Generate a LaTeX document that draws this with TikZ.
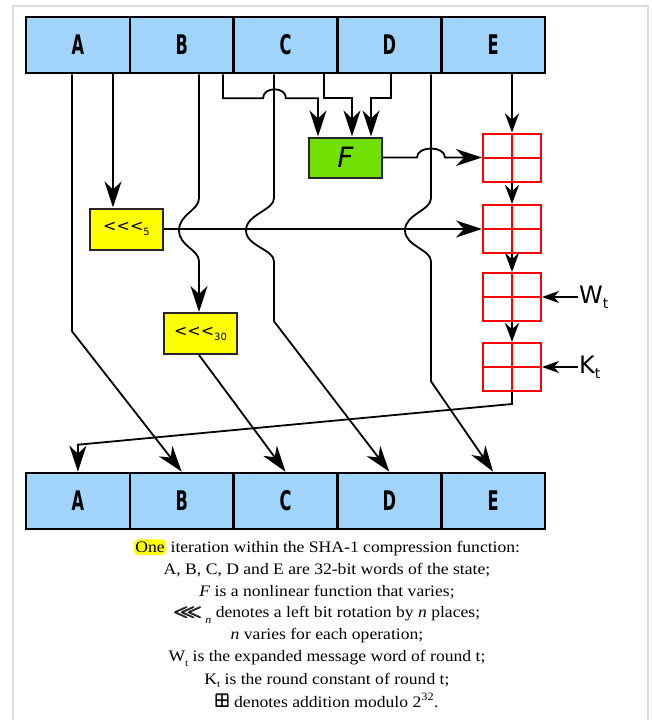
\documentclass[tikz,border=0pt]{standalone}
\usepackage{amsmath}
\usepackage{amssymb}
\usepackage{graphicx}
\usepackage{fontspec}
\setmainfont{Liberation Serif}[FakeStretch=1.1]
\newfontfamily\dv{DejaVu Sans}
\usetikzlibrary{arrows.meta,calc}
\definecolor{regblue}{HTML}{A0D4FA}
\definecolor{fgreen}{HTML}{6FE000}
\definecolor{rotyellow}{HTML}{FFFF00}
\definecolor{framegray}{HTML}{DCDCDC}
\newcommand{\reglbl}[1]{\scalebox{0.6}[1]{#1}}
\newcommand{\lowsub}[2]{\raisebox{#1}[0pt][0pt]{#2}}
\begin{document}
\begin{tikzpicture}[x=1pt,y=-1pt,
  reg/.style={draw=black,line width=2.6pt,fill=regblue,minimum width=103.8pt,minimum height=56pt,inner sep=0pt,font=\dv\bfseries\fontsize{27}{27}\selectfont},
  fnbox/.style={draw=black!85,line width=2pt,fill=fgreen,minimum width=73pt,minimum height=40pt,inner sep=0pt,font=\dv\itshape\fontsize{28}{28}\selectfont},
  rotbox/.style={draw=black!85,line width=2pt,fill=rotyellow,minimum width=73pt,minimum height=41pt,inner sep=0pt,font=\dv\fontsize{16}{16}\selectfont},
  adder/.style={draw=red,line width=2pt,minimum width=58pt,minimum height=48pt,inner sep=0pt,
    path picture={\draw[red,line width=2pt] (path picture bounding box.north) -- (path picture bounding box.south) (path picture bounding box.west) -- (path picture bounding box.east);}},
  conn/.style={draw=black,line width=1.8pt},
  arrL/.style={-{Stealth[length=26pt,width=17pt,inset=8pt]}},
  arrM/.style={-{Stealth[length=19pt,width=14pt,inset=6pt]}},
  arrS/.style={-{Stealth[length=17pt,width=12pt,inset=5pt]}},
  inlbl/.style={anchor=west,inner sep=1pt,font=\dv\fontsize{24}{24}\selectfont},
  captxt/.style={anchor=base,inner sep=0pt,font=\fontsize{16}{16}\selectfont},
]
\useasboundingbox (0,0) rectangle (651,720);
\draw[framegray,line width=1.5pt] (13,720) -- (13,6) -- (648,6) -- (648,720);

% registers
\node[reg] (tA) at (77.9,45) {\reglbl{A}};
\node[reg] (tB) at (181.7,45) {\reglbl{B}};
\node[reg] (tC) at (285.5,45) {\reglbl{C}};
\node[reg] (tD) at (389.3,45) {\reglbl{D}};
\node[reg] (tE) at (493.1,45) {\reglbl{E}};
\node[reg] (bA) at (77.9,501) {\reglbl{A}};
\node[reg] (bB) at (181.7,501) {\reglbl{B}};
\node[reg] (bC) at (285.5,501) {\reglbl{C}};
\node[reg] (bD) at (389.3,501) {\reglbl{D}};
\node[reg] (bE) at (493.1,501) {\reglbl{E}};

% function and rotations
\node[fnbox] (Fbox) at (345.5,157.5) {F};
\node[rotbox] (r5) at (126.5,229) {{<}{<}{<}\raisebox{-4pt}{\fontsize{10}{10}\selectfont 5}};
\node[rotbox] (r30) at (200.5,333.5) {{<}{<}{<}\raisebox{-4pt}{\fontsize{10}{10}\selectfont 30}};

% adders
\node[adder] (ad1) at (512,157.5) {};
\node[adder] (ad2) at (512,229) {};
\node[adder] (ad3) at (512,297) {};
\node[adder] (ad4) at (512,367) {};
\node[inlbl] (Wt) at (578,297) {W\raisebox{-5pt}{\fontsize{14}{14}\selectfont t}};
\node[inlbl] (Kt) at (578,367) {K\raisebox{-5pt}{\fontsize{14}{14}\selectfont t}};

% start points
\coordinate (sA1) at ([xshift=-5.9pt]tA.south);
\coordinate (sA2) at ([xshift=35.1pt]tA.south);
\coordinate (sB1) at ([xshift=17.3pt]tB.south);
\coordinate (sB2) at ([xshift=41.3pt]tB.south);
\coordinate (sC1) at ([xshift=-11.5pt]tC.south);
\coordinate (sC2) at ([xshift=38.5pt]tC.south);
\coordinate (sD1) at ([xshift=1.7pt]tD.south);
\coordinate (sD2) at ([xshift=41.7pt]tD.south);
\coordinate (sE) at ([xshift=18.9pt]tE.south);

% inputs of F
\draw[conn,arrL] (sB2) -- ++(0,24) -- ++(40,0) .. controls +(0,-12) and +(0,-12) .. ++(23,0) -- ++(32,0) coordinate (fb1) -- (fb1 |- Fbox.north);
\draw[conn,arrL] (sC2) -- ++(0,24) -- ++(28,0) coordinate (fc1) -- (fc1 |- Fbox.north);
\draw[conn,arrL] (sD1) -- ++(0,24) -- ++(-20,0) coordinate (fd1) -- (fd1 |- Fbox.north);

% long lines
\draw[conn,arrL] (sA1) -- ++(0,257) -- (bB.north);
\draw[conn,arrL] (sA2) -- (sA2 |- r5.north);
\draw[conn,arrL] (sB1) -- ++(0,124) .. controls +(0,12) and +(0,-16) .. ++(-20,32) .. controls +(0,16) and +(0,-12) .. ++(20,31) -- (sB1 |- r30.north);
\draw[conn,arrL] (sC1) -- ++(0,124) .. controls +(0,12) and +(0,-16) .. ++(-28,32) .. controls +(0,16) and +(0,-12) .. ++(28,31) -- ++(0,60) -- (bD.north);
\draw[conn,arrL] (sD2) -- ++(0,124) .. controls +(0,12) and +(0,-16) .. ++(-26,32) .. controls +(0,16) and +(0,-12) .. ++(26,31) -- ++(0,120) -- (bE.north);
\draw[conn,arrL] (sB1 |- r30.south) -- (bC.north);
\draw[conn,arrL] (ad4.south) -- ++(0,12) -- ([yshift=27pt]bA.north) -- (bA.north);

% into adders
\draw[conn,arrL] (Fbox.east) -- ++(34,0) .. controls +(0,-12) and +(0,-12) .. ++(28,0) -- (ad1.west);
\draw[conn,arrL] (r5.east) -- (ad2.west);
\draw[conn,arrM] (sE) -- (ad1.north);
\draw[conn,arrM] (ad1.south) -- (ad2.north);
\draw[conn,arrM] (ad2.south) -- (ad3.north);
\draw[conn,arrM] (ad3.south) -- (ad4.north);
\draw[conn,arrS] (Wt.west) -- (ad3.east);
\draw[conn,arrS] (Kt.west) -- (ad4.east);

% caption
\node[captxt] (c1) at (327,552.5) {\tikz[baseline=(onehl.base)]\node[fill=rotyellow,rounded corners=4pt,inner xsep=1.5pt,inner ysep=2.5pt] (onehl) {One};\ iteration within the SHA-1 compression function:};
\node[captxt] (c2) at (327,574) {A, B, C, D and E are 32-bit words of the state;};
\node[captxt] (c3) at (327,596.5) {\textit{F} is a nonlinear function that varies;};
\node[captxt] (c4) at (327,617.5) {\scalebox{1.35}[1.1]{$\pmb{\lll}$}\,\lowsub{-6pt}{\fontsize{11}{11}\selectfont\textit{n}}\ denotes a left bit rotation by \textit{n} places;};
\node[captxt] (c5) at (327,639.5) {\textit{n} varies for each operation;};
\node[captxt] (c6) at (327,661.5) {W\lowsub{-4.5pt}{\fontsize{10}{10}\selectfont t} is the expanded message word of round t;};
\node[captxt] (c7) at (327,684) {K\lowsub{-3.5pt}{\fontsize{10}{10}\selectfont t} is the round constant of round t;};
\node[captxt] (c8) at (327,707) {\scalebox{1.15}{$\pmb{\boxplus}$} denotes addition modulo 2\textsuperscript{32}.};
\end{tikzpicture}
\end{document}
